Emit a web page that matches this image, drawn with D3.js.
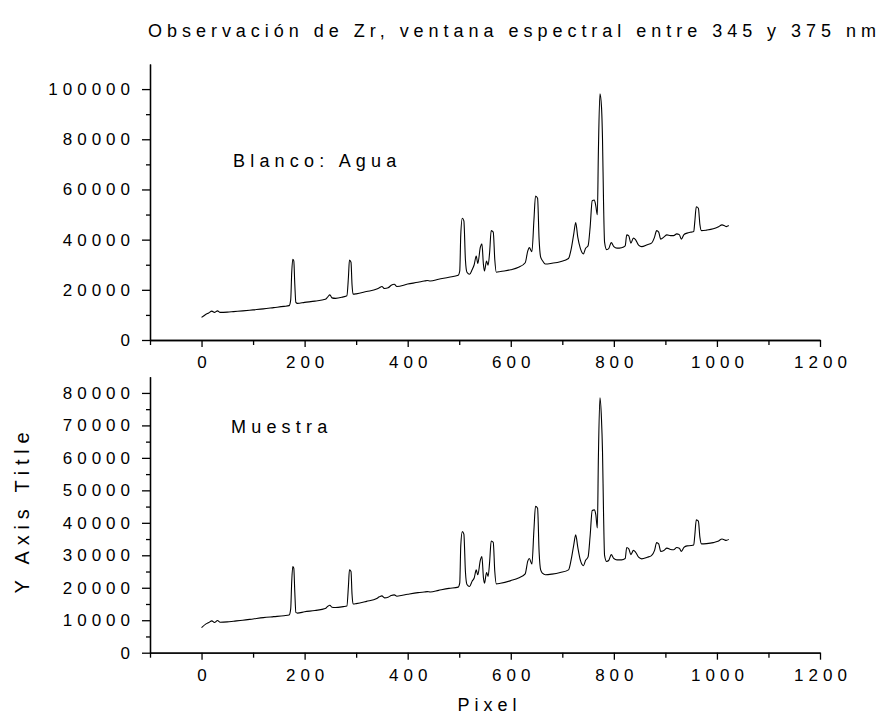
<!DOCTYPE html>
<html>
<head>
<meta charset="utf-8">
<script src="https://cdn.jsdelivr.net/npm/d3@7"></script>
<style>
  body { margin: 0; background: #fff; }
  svg text { font-family: "Liberation Sans", Arial, sans-serif; fill: #000; }
</style>
</head>
<body>
<svg id="chart" width="884" height="718"></svg>
<script>
// spectrum (pixel -> counts)
const pixel = [0, 8, 14, 20, 25, 31, 36, 50, 62, 80, 100, 120, 140, 160, 170, 173, 175, 177, 179, 181, 183, 186,
  200, 220, 240, 245, 249, 253, 260, 275, 282, 285, 287, 290, 292, 294, 300, 320, 340, 345, 350, 355, 362, 368, 374, 379,
  400, 420, 432, 438, 444, 460, 480, 498, 501, 503, 506, 509, 512, 515, 520, 525, 529, 533, 536, 541, 544, 547, 549, 553, 556,
  559, 562, 566, 569, 572, 580, 600, 615, 628, 633, 636, 641, 645, 648, 652, 655, 658, 662, 667, 680, 696, 712, 717, 722,
  726, 730, 735, 741, 745, 750, 754, 758, 762, 765, 768, 770, 773, 776, 778, 780, 782, 786, 790, 795, 800, 806, 815, 822,
  825, 829, 833, 838, 842, 848, 854, 865, 873, 879, 883, 887, 891, 897, 903, 910, 916, 922, 927, 931, 936, 942, 950, 955,
  957, 960, 964, 967, 970, 980, 993, 1002, 1010, 1015, 1018, 1023];

const blanco = [9000, 10200, 10800, 11500, 11000, 11600, 11000, 11100, 11300, 11600, 12000, 12400, 12900, 13400, 13700, 16000, 27000, 32200, 31500, 22000, 15000, 14600,
  15000, 15500, 16200, 17200, 18000, 16800, 16600, 17200, 17600, 25000, 31900, 31000, 22000, 18300, 18400, 19300, 20300, 20800, 21300, 20500, 20800, 21800, 22200, 21300,
  22300, 23000, 23500, 23700, 23500, 24200, 25000, 25800, 27500, 42000, 48500, 47500, 32000, 27000, 26200, 28000, 30000, 33500, 30500, 37000, 38300, 30000, 27500, 31500, 29800,
  35000, 43600, 43000, 32000, 27000, 27300, 28000, 29000, 30800, 35500, 36800, 35200, 48000, 57400, 56500, 40000, 33000, 31500, 30300, 30600, 31200, 32500, 36000, 42000,
  46800, 41000, 36500, 34300, 36500, 37600, 45000, 55500, 55800, 53500, 49900, 75000, 98100, 93000, 80000, 55000, 39000, 36000, 36400, 38800, 37200, 36600, 36800, 37500,
  41900, 41500, 38600, 40600, 40000, 37800, 37200, 38000, 38600, 41000, 43600, 43000, 40200, 41000, 41900, 41600, 41600, 42300, 42000, 40200, 42000, 42600, 43000, 43200,
  47000, 53100, 52500, 46000, 43600, 43800, 44300, 45000, 45900, 45500, 45200, 45600];

const muestra = [7700, 8800, 9300, 9800, 9300, 9900, 9400, 9500, 9700, 10000, 10400, 10800, 11100, 11400, 11600, 13500, 22000, 26500, 26000, 18500, 12400, 12200,
  12600, 13000, 13600, 14300, 14600, 14000, 13900, 14200, 14400, 20500, 25500, 25000, 18000, 15000, 15100, 15800, 16700, 17200, 17500, 16900, 17100, 17600, 17800, 17400,
  18000, 18500, 18700, 18800, 18700, 19200, 19800, 20200, 21500, 33000, 37300, 36500, 25000, 21000, 20400, 22000, 23000, 25500, 24000, 28500, 29600, 23000, 21400, 24700, 23500,
  28000, 34400, 34000, 25000, 21200, 21400, 22200, 23000, 24300, 28200, 29000, 27300, 38000, 45100, 44500, 31000, 25500, 24400, 24000, 24200, 24700, 25500, 28500, 33000,
  36300, 32500, 28500, 26800, 28400, 29500, 36000, 43800, 44000, 42500, 38400, 60000, 78500, 72000, 62000, 43000, 30000, 28100, 28400, 30200, 29000, 28600, 28600, 29000,
  32400, 32000, 30200, 31500, 31000, 29400, 28900, 29400, 29900, 31500, 33900, 33500, 31200, 31500, 32200, 31800, 31700, 32400, 32200, 31200, 32400, 32900, 33000, 33200,
  36000, 40900, 40500, 35500, 33500, 33600, 33900, 34300, 35000, 34700, 34600, 34900];

const xMajor = [0, 200, 400, 600, 800, 1000, 1200];
const xMinor = [-100, 100, 300, 500, 700, 900, 1100];
const topMajor = [0, 20000, 40000, 60000, 80000, 100000];
const topMinor = [10000, 30000, 50000, 70000, 90000];
const botMajor = [0, 10000, 20000, 30000, 40000, 50000, 60000, 70000, 80000];
const botMinor = [5000, 15000, 25000, 35000, 45000, 55000, 65000, 75000];

const svg = d3.select('#chart');
const ls = 5; // wide letter spacing of the original
const fs = 17;

const x = d3.scaleLinear().domain([-100, 1200]).range([150, 820]);

function panel(values, yDomain, yRange, major, minor, label, labelPos) {
  const y = d3.scaleLinear().domain(yDomain).range(yRange);
  const g = svg.append('g');

  // y axis
  g.append('g').attr('transform', 'translate(150,0)')
    .call(d3.axisLeft(y).tickValues(minor).tickSize(4).tickFormat('').tickSizeOuter(0));
  g.append('g').attr('transform', 'translate(150,0)')
    .call(d3.axisLeft(y).tickValues(major).tickSize(8).tickPadding(12 - ls).tickSizeOuter(0).tickFormat(d3.format('d')));

  // x axis
  g.append('g').attr('transform', `translate(0,${yRange[0]})`)
    .call(d3.axisBottom(x).tickValues(xMinor).tickSize(5).tickFormat('').tickSizeOuter(0));
  const xa = g.append('g').attr('transform', `translate(0,${yRange[0]})`)
    .call(d3.axisBottom(x).tickValues(xMajor).tickSize(7).tickPadding(9).tickSizeOuter(0).tickFormat(d3.format('d')));
  xa.selectAll('text').attr('dx', ls / 2);

  svg.selectAll('.tick text').attr('font-size', fs).attr('letter-spacing', ls)
    .attr('font-family', '"Liberation Sans", Arial, sans-serif').attr('fill', '#000');
  svg.selectAll('.domain, .tick line').attr('stroke', '#000').attr('stroke-width', 1.3);

  const line = d3.line()
    .x((d, i) => x(pixel[i]))
    .y(d => y(d))
    .curve(d3.curveMonotoneX);

  g.append('path').datum(values)
    .attr('d', line)
    .attr('fill', 'none')
    .attr('stroke', '#000')
    .attr('stroke-width', 1.1);

  g.append('text')
    .attr('x', labelPos[0]).attr('y', labelPos[1])
    .attr('font-size', 18).attr('letter-spacing', 5.2)
    .text(label);
}

panel(blanco, [0, 110000], [340, 64], topMajor, topMinor, 'Blanco: Agua', [233, 167]);
panel(muestra, [0, 85000], [652.7, 376.7], botMajor, botMinor, 'Muestra', [231, 433]);

svg.append('text')
  .attr('x', 148).attr('y', 37)
  .attr('font-size', 18)
  .attr('textLength', 728).attr('lengthAdjust', 'spacing')
  .text('Observación de Zr, ventana espectral entre 345 y 375 nm');

svg.append('text')
  .attr('x', 487 + ls / 2).attr('y', 711)
  .attr('text-anchor', 'middle')
  .attr('font-size', 18).attr('letter-spacing', ls)
  .text('Pixel');

svg.append('text')
  .attr('transform', 'translate(29,510) rotate(-90)')
  .attr('text-anchor', 'middle')
  .attr('font-size', 20).attr('letter-spacing', 5.8)
  .text('Y Axis Title');
</script>
</body>
</html>
